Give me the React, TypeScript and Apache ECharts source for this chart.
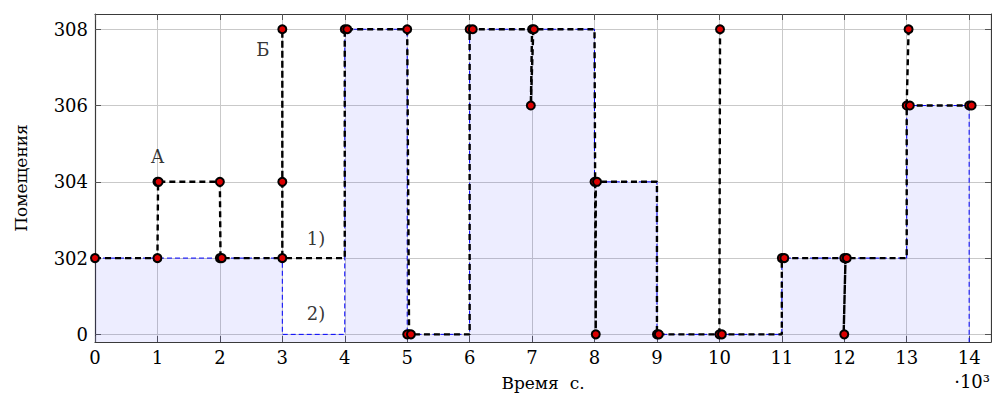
import React, { useEffect, useRef } from "react";
import * as echarts from "echarts";

// Room levels on the y axis (equally spaced categories)
const roomLabels = ["0", "302", "304", "306", "308"];
// x tick labels (time in thousands of seconds)
const xTickValues = [0, 1, 2, 3, 4, 5, 6, 7, 8, 9, 10, 11, 12, 13, 14];

// Plan (series 2): step function, level holds from start until next start
const planStart = [0, 3, 4, 5, 6, 8, 9, 11, 13];
const planRoom = ["302", "0", "308", "0", "308", "304", "0", "302", "306"];
const planEnd = 14;

// Actual trajectory (series 1), in order; "-" breaks the line
const trajTime = [
  0, 1, 1.01, 2, 2.01, 3, 3, 3, 3, 4, 4, 5, 5.03, 6, 6, 7, 6.98, 7.02, 8, 8.02, 8.02,
  9, 9, 11, 11, 12.02, 11.99, 12.02, 13, 13, 13.03,
  0, 13, 14,
  0, 10, 10.01,
];
const trajRoom = [
  "302", "302", "304", "304", "302", "302", "304", "308", "302", "302", "308", "308", "0", "0", "308", "308", "306", "308", "308", "0", "304",
  "304", "0", "0", "302", "302", "0", "302", "302", "306", "308",
  "-", "306", "306",
  "-", "0", "308",
];

// Observation markers
const markTime = [
  0, 1, 1, 1.02, 2, 2, 2.03, 3, 3, 3, 4, 4.04, 5, 5, 5.06, 6, 6.05, 7, 7.03, 6.98, 8, 8.04, 8.02,
  9, 9.03, 10, 10.04, 10.01, 11, 11.04, 12, 12.04, 12, 13, 13.05, 13.03, 14, 14.04,
];
const markRoom = [
  "302", "302", "304", "304", "304", "302", "302", "302", "304", "308", "308", "308", "308", "0", "0", "308", "308", "308", "308", "306", "304", "304", "0",
  "0", "0", "0", "0", "308", "302", "302", "302", "302", "0", "306", "306", "308", "306", "306",
];

// Annotations (data coordinates: time, level index)
const noteText = ["А", "Б", "1)", "2)"];
const noteTime = [1, 2.69, 3.54, 3.54];
const noteLevel = [2.33, 3.73, 1.26, 0.28];

const FONT = "DejaVu Serif";
const Y_MIN = -0.1;

export default function App() {
  const ref = useRef<HTMLDivElement>(null);

  useEffect(() => {
    if (!ref.current) return;
    const chart = echarts.init(ref.current, undefined, { renderer: "svg" });
    const lvl = (r: string) => roomLabels.indexOf(r);

    const planPts: number[][] = planStart.map((t, i) => [t, lvl(planRoom[i])]);
    planPts.push([planEnd, Y_MIN]);
    const trajPts = trajTime.map((t, i) => (trajRoom[i] === "-" ? "-" : [t, lvl(trajRoom[i])]));
    const markPts = markTime.map((t, i) => [t, lvl(markRoom[i])]);
    const notePts = noteText.map((n, i) => ({ name: n, value: [noteTime[i], noteLevel[i]] }));
    const yTickValues = roomLabels.map((_, i) => i);

    const tickStyle = { color: "#555", width: 1 };
    const frame = { show: true, onZero: false, lineStyle: { color: "#3a3a3a", width: 1.2 } };

    chart.setOption({
      animation: false,
      textStyle: { fontFamily: FONT },
      grid: { left: 95, right: 1, top: 14, bottom: 57, containLabel: false },
      xAxis: [
        {
          type: "value",
          min: 0,
          max: 14.35,
          position: "bottom",
          axisLine: frame,
          axisTick: { show: true, inside: true, length: 6, customValues: xTickValues, lineStyle: tickStyle },
          axisLabel: {
            customValues: xTickValues,
            formatter: (v: number) => String(v),
            color: "#000",
            fontSize: 18,
            fontFamily: FONT,
            margin: 6,
          },
          splitLine: { show: true, lineStyle: { color: "#c9c9c9", width: 1 } },
          name: "Время  с.",
          nameLocation: "middle",
          nameGap: 32,
          nameTextStyle: { color: "#000", fontSize: 17, fontFamily: FONT },
        },
        {
          type: "value",
          min: 0,
          max: 14.35,
          position: "top",
          axisLine: frame,
          axisTick: { show: true, inside: true, length: 6, customValues: xTickValues, lineStyle: tickStyle },
          axisLabel: { show: false },
          splitLine: { show: false },
        },
      ],
      yAxis: [
        {
          type: "value",
          min: Y_MIN,
          max: 4.2,
          position: "left",
          axisLine: frame,
          axisTick: { show: true, inside: true, length: 6, customValues: yTickValues, lineStyle: tickStyle },
          axisLabel: {
            customValues: yTickValues,
            formatter: (v: number) => roomLabels[Math.round(v)] ?? "",
            color: "#000",
            fontSize: 18,
            fontFamily: FONT,
            margin: 7,
          },
          splitLine: { show: true, lineStyle: { color: "#c9c9c9", width: 1 } },
          name: "Помещения",
          nameLocation: "middle",
          nameGap: 66,
          nameTextStyle: { color: "#000", fontSize: 17, fontFamily: FONT },
        },
        {
          type: "value",
          min: Y_MIN,
          max: 4.2,
          position: "right",
          axisLine: frame,
          axisTick: { show: true, inside: true, length: 6, customValues: yTickValues, lineStyle: tickStyle },
          axisLabel: { show: false },
          splitLine: { show: false },
        },
      ],
      series: [
        {
          type: "line",
          name: "2)",
          data: planPts,
          step: "end",
          symbol: "none",
          lineStyle: { color: "#0000ff", width: 1, type: [5, 3] },
          areaStyle: { color: "rgba(0,0,255,0.1)", origin: "start" },
          z: 2,
        },
        {
          type: "line",
          name: "1)",
          data: trajPts,
          symbol: "none",
          connectNulls: false,
          lineStyle: { color: "#000", width: 2.4, type: [6, 4] },
          z: 3,
        },
        {
          type: "scatter",
          data: markPts,
          symbol: "circle",
          symbolSize: 8,
          itemStyle: { color: "#dd0000", borderColor: "#000", borderWidth: 2, opacity: 1 },
          z: 4,
        },
        {
          type: "scatter",
          data: notePts,
          symbolSize: 0,
          label: {
            show: true,
            position: "inside",
            formatter: "{b}",
            color: "#000",
            fontSize: 18,
            fontFamily: FONT,
          },
          z: 5,
        },
      ],
      graphic: [
        {
          type: "text",
          right: 2,
          top: 372,
          style: { text: "·10³", fill: "#000", fontSize: 18, fontFamily: FONT },
        },
      ],
    });

    return () => chart.dispose();
  }, []);

  return (
    <div
      ref={ref}
      style={{ position: "fixed", left: 0, top: 0, width: 992, height: 399, background: "#fff" }}
    />
  );
}
